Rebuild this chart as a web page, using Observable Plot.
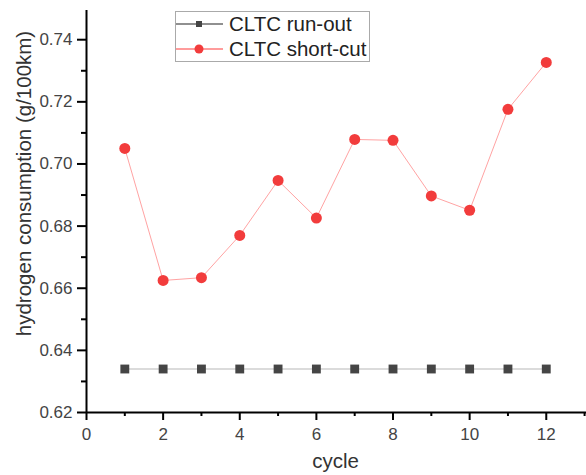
<!DOCTYPE html>
<html>
<head>
<meta charset="utf-8">
<script src="https://cdn.jsdelivr.net/npm/d3@7"></script>
<script src="https://cdn.jsdelivr.net/npm/@observablehq/plot@0.6"></script>
<style>
  html, body { margin: 0; padding: 0; background: white; overflow: hidden; }
  #wrap { position: relative; width: 586px; height: 475px; font-family: "Liberation Sans", Arial, sans-serif; }
  #legend { position: absolute; left: 175px; top: 11px; width: 193px; height: 49px; border: 1px solid #aaa; background: white; }
  .row { position: absolute; left: 0; height: 24px; display: flex; align-items: center; }
  .row svg { display: block; }
  .row span { margin-left: 6px; font-size: 20.5px; color: #222; white-space: nowrap; }
</style>
</head>
<body>
<div id="wrap"></div>
<script>
// ---- data ----
const cycles = [1, 2, 3, 4, 5, 6, 7, 8, 9, 10, 11, 12];
const runOut = [0.634, 0.634, 0.634, 0.634, 0.634, 0.634, 0.634, 0.634, 0.634, 0.634, 0.634, 0.634];
const shortCut = [0.705, 0.6625, 0.6634, 0.677, 0.6947, 0.6826, 0.7079, 0.7076, 0.6897, 0.6851, 0.7176, 0.7327];
const seriesNames = ["CLTC run-out", "CLTC short-cut"];
const xMajorTicks = [0, 2, 4, 6, 8, 10, 12];
const xMinorTicks = [1, 3, 5, 7, 9, 11, 13];
const yMajorTicks = [0.62, 0.64, 0.66, 0.68, 0.70, 0.72, 0.74];
const yMinorTicks = [0.63, 0.65, 0.67, 0.69, 0.71, 0.73];
const xLabel = "cycle";
const yLabel = "hydrogen consumption (g/100km)";

const runData = cycles.map((c, i) => ({cycle: c, value: runOut[i]}));
const shortData = cycles.map((c, i) => ({cycle: c, value: shortCut[i]}));

const chart = Plot.plot({
  width: 586,
  height: 475,
  marginLeft: 86,
  marginRight: 0,
  marginTop: 10,
  marginBottom: 63,
  style: {fontFamily: "'Liberation Sans', Arial, sans-serif", background: "white", overflow: "visible"},
  x: {domain: [0, 13.05]},
  y: {domain: [0.62, 0.7494]},
  marks: [
    Plot.axisX({ticks: xMajorTicks, tickSize: 8, tickPadding: 7, fontSize: 17, strokeWidth: 2, stroke: "black", fill: "#444", label: null, tickFormat: d => d}),
    Plot.axisX({ticks: xMinorTicks, tickSize: 4, strokeWidth: 2, stroke: "black", label: null, tickFormat: () => ""}),
    Plot.axisY({ticks: yMajorTicks, tickSize: 9, tickPadding: 5, fontSize: 17, strokeWidth: 2, stroke: "black", fill: "#444", label: null, tickFormat: d3.format(".2f")}),
    Plot.axisY({ticks: yMinorTicks, tickSize: 5, strokeWidth: 2, stroke: "black", label: null, tickFormat: () => ""}),
    Plot.ruleX([0], {strokeWidth: 2, stroke: "black"}),
    Plot.ruleY([0.62], {strokeWidth: 2, stroke: "black"}),
    Plot.line(runData, {x: "cycle", y: "value", stroke: "#cfcfcf", strokeWidth: 1.5}),
    Plot.dot(runData, {x: "cycle", y: "value", symbol: "square", r: 5, fill: "#454545"}),
    Plot.line(shortData, {x: "cycle", y: "value", stroke: "#ffa3a3", strokeWidth: 1}),
    Plot.dot(shortData, {x: "cycle", y: "value", symbol: "circle", r: 5.5, fill: "#f23c3c"}),
    Plot.text([yLabel], {frameAnchor: "left", rotate: -90, dx: -62, dy: -28, fontSize: 20.5, fill: "#333", textAnchor: "middle", lineAnchor: "middle"}),
    Plot.text([xLabel], {frameAnchor: "bottom", dx: -1, dy: 49, fontSize: 20.5, fill: "#333", textAnchor: "middle", lineAnchor: "middle"})
  ]
});

const wrap = document.getElementById("wrap");
wrap.appendChild(chart);

// legend
const legend = document.createElement("div");
legend.id = "legend";
const styles = [
  {line: "#222", marker: "square", fill: "#454545"},
  {line: "#ff3b3b", marker: "circle", fill: "#f23c3c"}
];
seriesNames.forEach((name, i) => {
  const row = document.createElement("div");
  row.className = "row";
  row.style.top = (i * 25) + "px";
  const s = styles[i];
  const m = s.marker === "square"
    ? `<rect x="20" y="9" width="6" height="6" fill="${s.fill}"/>`
    : `<circle cx="23" cy="12" r="4.5" fill="${s.fill}"/>`;
  row.innerHTML = `<svg width="47" height="24"><line x1="0" x2="47" y1="12" y2="12" stroke="${s.line}" stroke-width="1.2"/>${m}</svg><span>${name}</span>`;
  legend.appendChild(row);
});
wrap.appendChild(legend);
</script>
</body>
</html>
